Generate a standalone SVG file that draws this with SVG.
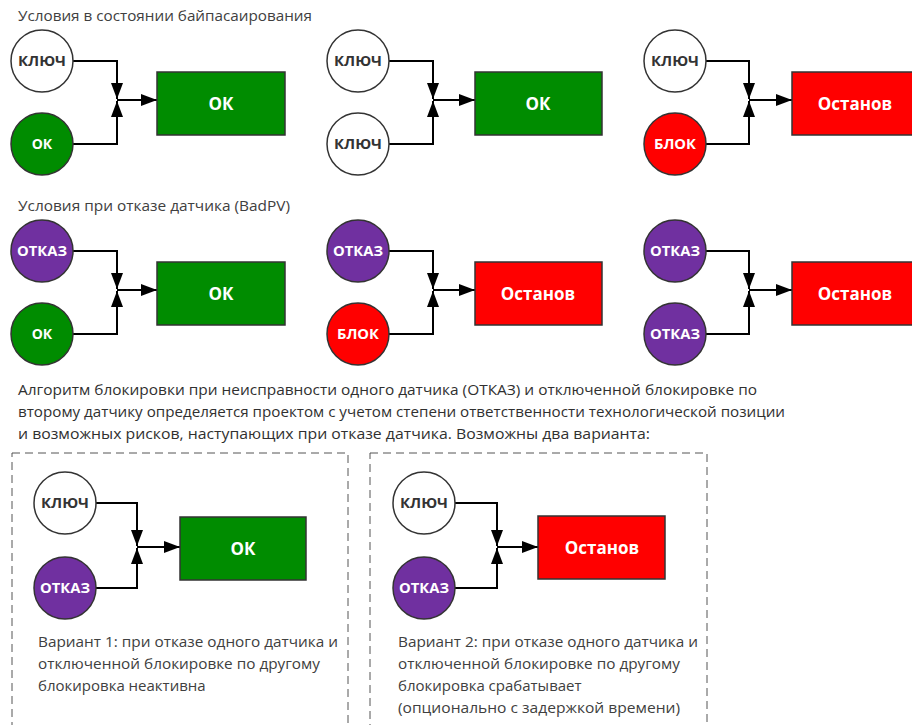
<svg xmlns="http://www.w3.org/2000/svg" width="912" height="725" viewBox="0 0 912 725">
<defs>
<marker id="ah" markerUnits="userSpaceOnUse" markerWidth="18" markerHeight="12" refX="16" refY="6" orient="auto">
<path d="M0,0 L16,6 L0,12 Z" fill="#000"/>
</marker>
<style>
.t{font-family:"Open Sans","Liberation Sans",sans-serif;fill:#404040}
.c{font-family:"Open Sans","Liberation Sans",sans-serif;fill:#404040;font-size:15px}
.p{font-family:"Open Sans","Liberation Sans",sans-serif;fill:#303030;font-size:14px}
.cw{fill:#fff;stroke:#333;stroke-width:1.5}
.cg{fill:#008c00;stroke:#333;stroke-width:1.5}
.cr{fill:#ff0000;stroke:#333;stroke-width:1.5}
.cp{fill:#7030a0;stroke:#333;stroke-width:1.5}
.bg{fill:#008c00;stroke:#333;stroke-width:1.5}
.br{fill:#ff0000;stroke:#333;stroke-width:1.5}
.lk{font-family:"Open Sans","Liberation Sans",sans-serif;font-weight:bold;font-size:14px;fill:#333;text-anchor:middle}
.lw{font-family:"Open Sans","Liberation Sans",sans-serif;font-weight:bold;font-size:14px;fill:#fff;text-anchor:middle}
.bt{font-family:"Open Sans","Liberation Sans",sans-serif;font-weight:bold;font-size:17px;fill:#fff;text-anchor:middle}
.ln{fill:none;stroke:#000;stroke-width:2;marker-end:url(#ah)}
.dash{fill:none;stroke:#555;stroke-width:1;stroke-dasharray:8,5}
</style>
</defs>
<rect width="912" height="725" fill="#fff"/>

<text class="t" x="18" y="21" font-size="15" textLength="294" lengthAdjust="spacingAndGlyphs">Условия в состоянии байпасаирования</text>
<text class="t" x="18" y="211" font-size="15" textLength="272" lengthAdjust="spacingAndGlyphs">Условия при отказе датчика (BadPV)</text>

<g id="connectors">
<path class="ln" d="M73,61 H117 V99"/>
<path class="ln" d="M73,144 H117 V101"/>
<path class="ln" d="M117,100 H157"/>
<path class="ln" d="M389,61 H433 V99"/>
<path class="ln" d="M389,144 H433 V101"/>
<path class="ln" d="M433,100 H475"/>
<path class="ln" d="M706,61 H749 V99"/>
<path class="ln" d="M706,144 H749 V101"/>
<path class="ln" d="M749,100 H792"/>
<path class="ln" d="M73,251 H117 V289"/>
<path class="ln" d="M73,334 H117 V291"/>
<path class="ln" d="M117,290 H157"/>
<path class="ln" d="M389,251 H433 V289"/>
<path class="ln" d="M389,334 H433 V291"/>
<path class="ln" d="M433,290 H475"/>
<path class="ln" d="M706,251 H749 V289"/>
<path class="ln" d="M706,334 H749 V291"/>
<path class="ln" d="M749,290 H792"/>
<path class="ln" d="M96,503 H137 V546"/>
<path class="ln" d="M96,588 H137 V548"/>
<path class="ln" d="M137,547 H180"/>
<path class="ln" d="M455,503 H497 V546"/>
<path class="ln" d="M455,588 H497 V548"/>
<path class="ln" d="M497,547 H538"/>
</g>

<g id="r1a-key"><circle class="cw" cx="42" cy="61" r="31"/><text class="lk" x="42" y="66" textLength="48" lengthAdjust="spacingAndGlyphs">КЛЮЧ</text></g>
<g id="r1a-ok"><circle class="cg" cx="42" cy="144" r="31"/><text class="lw" x="42" y="149">ОК</text></g>
<g id="r1a-box"><rect class="bg" x="157" y="72" width="128" height="63"/><text class="bt" x="221" y="110">ОК</text></g>

<g id="r1b-key1"><circle class="cw" cx="358" cy="61" r="31"/><text class="lk" x="358" y="66" textLength="48" lengthAdjust="spacingAndGlyphs">КЛЮЧ</text></g>
<g id="r1b-key2"><circle class="cw" cx="358" cy="144" r="31"/><text class="lk" x="358" y="149" textLength="48" lengthAdjust="spacingAndGlyphs">КЛЮЧ</text></g>
<g id="r1b-box"><rect class="bg" x="475" y="72" width="127" height="63"/><text class="bt" x="538" y="110">ОК</text></g>

<g id="r1c-key"><circle class="cw" cx="675" cy="61" r="31"/><text class="lk" x="675" y="66" textLength="48" lengthAdjust="spacingAndGlyphs">КЛЮЧ</text></g>
<g id="r1c-block"><circle class="cr" cx="675" cy="144" r="31"/><text class="lw" x="675" y="149" textLength="42" lengthAdjust="spacingAndGlyphs">БЛОК</text></g>
<g id="r1c-box"><rect class="br" x="792" y="72" width="128" height="63"/><text class="bt" x="855" y="110">Останов</text></g>

<g id="r2a-fail"><circle class="cp" cx="42" cy="251" r="31"/><text class="lw" x="42" y="256" textLength="50" lengthAdjust="spacingAndGlyphs">ОТКАЗ</text></g>
<g id="r2a-ok"><circle class="cg" cx="42" cy="334" r="31"/><text class="lw" x="42" y="339">ОК</text></g>
<g id="r2a-box"><rect class="bg" x="157" y="262" width="128" height="63"/><text class="bt" x="221" y="300">ОК</text></g>

<g id="r2b-fail"><circle class="cp" cx="358" cy="251" r="31"/><text class="lw" x="358" y="256" textLength="50" lengthAdjust="spacingAndGlyphs">ОТКАЗ</text></g>
<g id="r2b-block"><circle class="cr" cx="358" cy="334" r="31"/><text class="lw" x="358" y="339" textLength="42" lengthAdjust="spacingAndGlyphs">БЛОК</text></g>
<g id="r2b-box"><rect class="br" x="475" y="262" width="127" height="63"/><text class="bt" x="538" y="300">Останов</text></g>

<g id="r2c-fail1"><circle class="cp" cx="675" cy="251" r="31"/><text class="lw" x="675" y="256" textLength="50" lengthAdjust="spacingAndGlyphs">ОТКАЗ</text></g>
<g id="r2c-fail2"><circle class="cp" cx="675" cy="334" r="31"/><text class="lw" x="675" y="339" textLength="50" lengthAdjust="spacingAndGlyphs">ОТКАЗ</text></g>
<g id="r2c-box"><rect class="br" x="792" y="262" width="128" height="63"/><text class="bt" x="855" y="300">Останов</text></g>

<text class="p" x="18" y="395" textLength="739" lengthAdjust="spacingAndGlyphs">Алгоритм блокировки при неисправности одного датчика (ОТКАЗ) и отключенной блокировке по</text>
<text class="p" x="18" y="417" textLength="767" lengthAdjust="spacingAndGlyphs">второму датчику определяется проектом с учетом степени ответственности технологической позиции</text>
<text class="p" x="18" y="439" textLength="632" lengthAdjust="spacingAndGlyphs">и возможных рисков, наступающих при отказе датчика. Возможны два варианта:</text>

<g id="variant1">
<rect class="dash" x="12" y="453" width="336" height="290"/>
<g id="v1-key"><circle class="cw" cx="65" cy="503" r="31"/><text class="lk" x="65" y="508" textLength="48" lengthAdjust="spacingAndGlyphs">КЛЮЧ</text></g>
<g id="v1-fail"><circle class="cp" cx="65" cy="588" r="31"/><text class="lw" x="65" y="593" textLength="50" lengthAdjust="spacingAndGlyphs">ОТКАЗ</text></g>
<g id="v1-box"><rect class="bg" x="180" y="517" width="126" height="63"/><text class="bt" x="243" y="555">ОК</text></g>
<text class="c" x="38" y="647" textLength="300" lengthAdjust="spacingAndGlyphs">Вариант 1: при отказе одного датчика и</text>
<text class="c" x="38" y="669" textLength="282" lengthAdjust="spacingAndGlyphs">отключенной блокировке по другому</text>
<text class="c" x="38" y="691">блокировка неактивна</text>
</g>

<g id="variant2">
<rect class="dash" x="370" y="453" width="337" height="290"/>
<g id="v2-key"><circle class="cw" cx="424" cy="503" r="31"/><text class="lk" x="424" y="508" textLength="48" lengthAdjust="spacingAndGlyphs">КЛЮЧ</text></g>
<g id="v2-fail"><circle class="cp" cx="424" cy="588" r="31"/><text class="lw" x="424" y="593" textLength="50" lengthAdjust="spacingAndGlyphs">ОТКАЗ</text></g>
<g id="v2-box"><rect class="br" x="538" y="516" width="127" height="63"/><text class="bt" x="602" y="554">Останов</text></g>
<text class="c" x="398" y="647" textLength="300" lengthAdjust="spacingAndGlyphs">Вариант 2: при отказе одного датчика и</text>
<text class="c" x="398" y="669" textLength="282" lengthAdjust="spacingAndGlyphs">отключенной блокировке по другому</text>
<text class="c" x="398" y="691">блокировка срабатывает</text>
<text class="c" x="398" y="713" textLength="282" lengthAdjust="spacingAndGlyphs">(опционально с задержкой времени)</text>
</g>
</svg>
